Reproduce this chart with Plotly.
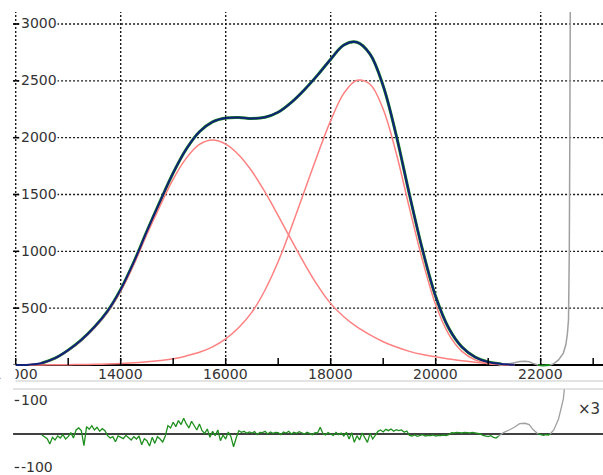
import plotly.graph_objects as go

# ---------------- data ----------------
X_MODEL = [12000, 12250, 12500, 12750, 13000, 13250, 13500, 13750,
           14000, 14250, 14500, 14750, 15000, 15250, 15500, 15750,
           16000, 16250, 16500, 16750, 17000, 17250, 17500, 17750,
           18000, 18250, 18500, 18750, 19000, 19250, 19500, 19750,
           20000, 20250, 20500, 20750, 21000, 21250, 21500]
PEAK1 = [0, 3, 17, 58, 128, 217, 328, 465,
         650, 885, 1150, 1400, 1635, 1820, 1940, 1979,
         1943, 1848, 1704, 1520, 1314, 1100, 892, 700,
         540, 425, 335, 265, 205, 158, 120, 92,
         72, 53, 38, 25, 14, 6, 2]
PEAK2 = [0, 0, 1, 2, 3, 4, 6, 9,
         14, 20, 28, 40, 55, 80, 112, 160,
         230, 330, 465, 660, 910, 1210, 1530, 1850,
         2150, 2390, 2505, 2470, 2250, 1860, 1380, 920,
         530, 270, 120, 45, 12, 3, 0]
MODEL_SUM = [a + b for a, b in zip(PEAK1, PEAK2)]

# residuals (data - model), one value every 50 units from 12500 to 21200
X_RES = list(range(12500, 21250, 50))
RESID = [-3, -8, -14, -30, -10, -18, -6, -12, -2, -15,
         -8, 4, -12, 12, 18, 10, -35, 22, 14, 25,
         12, 20, 8, 16, 10, -5, -12, -8, -23, -6,
         -10, -14, -4, -12, -18, -8, -15, -6, -32, -14,
         -20, -36, -10, -28, -8, -15, -24, -6, 25, 18,
         35, 22, 40, 28, 47, 30, 18, 38, 25, 12,
         30, 10, 2, 15, -10, 8, -5, 12, -20, -3,
         -15, 6, -8, -38, -12, 10, 5, 8, 2, 6,
         3, 7, -2, 5, 4, 8, 0, 6, 2, 5,
         4, -2, 6, 3, 8, 0, 5, 2, 7, 3,
         0, 5, 2, -2, 4, 3, 20, 2, -3, 4,
         0, -4, 5, -2, 3, -6, 5, -15, 4, -25,
         -5, -18, 3, -10, -25, 2, -15, -4, 8, 12,
         6, 14, 10, 15, 8, 13, 10, 12, 5, 9,
         -4, -6, -3, -7, -5, -2, -6, -4, -5, -3,
         -6, -4, -5, -3, -5, -2, 4, 3, 5, 4,
         3, 5, 4, 3, 5, 4, 3, 0, -4, -6,
         -8, -5, -10, -12, -6]

# tail of the data beyond the fitted region (model ~ 0 there)
TAIL1_X = [21200, 21300, 21400, 21500, 21600, 21700, 21780, 21850, 21950]
TAIL1_Y = [-6, 5, 12, 20, 31, 32, 28, 14, 0]
TAIL2_X = [21950, 22000, 22050, 22100, 22150, 22180]
TAIL2_Y = [0, -3, -4, -2, -3, 0]
TAIL3_X = [22180, 22250, 22340, 22432, 22480, 22510, 22530, 22545, 22555, 22565]
TAIL3_Y = [0, 12, 45, 105, 180, 280, 400, 1000, 2000, 3300]

Y_TICKS = [500, 1000, 1500, 2000, 2500, 3000]
X_GRID = [12000, 14000, 16000, 18000, 20000, 22000]
X_TICKS = [12000, 13000, 14000, 15000, 16000, 17000, 18000, 19000,
           20000, 21000, 22000, 23000]
RES_TICKS = [100, -100]
RES_SCALE_LABEL = "×3"

# ---------------- styling ----------------
GREEN = "#1f8f1f"
NAVY = "#102278"
RED = "#ff8080"
GRAY = "#a0a0a0"
FONT = "DejaVu Sans"
TXT = "#333333"
XR = [11701, 23187]
YR = [-140.8, 3105.5]
Y2R = [-122.4, 134.3]
XL = 11950

fig = go.Figure()
# main plot
fig.add_trace(go.Scatter(x=TAIL1_X, y=TAIL1_Y, mode="lines",
                         line=dict(color=GRAY, width=1.5), xaxis="x", yaxis="y"))
fig.add_trace(go.Scatter(x=TAIL3_X, y=TAIL3_Y, mode="lines",
                         line=dict(color=GRAY, width=1.5), xaxis="x", yaxis="y"))
fig.add_trace(go.Scatter(x=TAIL2_X, y=TAIL2_Y, mode="lines",
                         line=dict(color=GREEN, width=2), xaxis="x", yaxis="y"))
fig.add_trace(go.Scatter(x=X_MODEL[2:38], y=MODEL_SUM[2:38], mode="lines",
                         line=dict(color=GREEN, width=3.0, shape="spline"),
                         xaxis="x", yaxis="y"))
for comp in (PEAK1, PEAK2):
    fig.add_trace(go.Scatter(x=X_MODEL, y=comp, mode="lines",
                             line=dict(color=RED, width=1.5, shape="spline"),
                             xaxis="x", yaxis="y"))
fig.add_trace(go.Scatter(x=X_MODEL, y=MODEL_SUM, mode="lines",
                         line=dict(color=NAVY, width=2, shape="spline"),
                         xaxis="x", yaxis="y"))
# residual plot
fig.add_trace(go.Scatter(x=TAIL1_X, y=TAIL1_Y, mode="lines",
                         line=dict(color=GRAY, width=1.3), xaxis="x2", yaxis="y2"))
fig.add_trace(go.Scatter(x=TAIL3_X, y=TAIL3_Y, mode="lines",
                         line=dict(color=GRAY, width=1.3), xaxis="x2", yaxis="y2"))
fig.add_trace(go.Scatter(x=TAIL2_X, y=TAIL2_Y, mode="lines",
                         line=dict(color=GREEN, width=1.3), xaxis="x2", yaxis="y2"))
fig.add_trace(go.Scatter(x=X_RES, y=RESID, mode="lines",
                         line=dict(color=GREEN, width=1.3), xaxis="x2", yaxis="y2"))

shapes = []
dot = dict(color="#1a1a1a", width=1.4, dash="2px,2px")
for v in Y_TICKS:
    shapes.append(dict(type="line", xref="x", yref="y", x0=XL, x1=XR[1], y0=v, y1=v,
                       line=dot, layer="below"))
for v in X_GRID:
    shapes.append(dict(type="line", xref="x", yref="y", x0=v, x1=v, y0=0, y1=YR[1],
                       line=dot, layer="below"))
shapes.append(dict(type="line", xref="x", yref="y", x0=XL, x1=XR[1], y0=0, y1=0,
                   line=dict(color="black", width=2), layer="below"))
for v in X_TICKS:
    shapes.append(dict(type="line", xref="x", yref="y", ysizemode="pixel", yanchor=0,
                       x0=v, x1=v, y0=0, y1=7, line=dict(color="black", width=1.5)))
for v in Y_TICKS:
    shapes.append(dict(type="line", xref="x", yref="y", xsizemode="pixel", xanchor=12000,
                       x0=-2.5, x1=3.5, y0=v, y1=v, line=dict(color="black", width=1.5)))
# residual panel
shapes.append(dict(type="line", xref="x2", yref="y2", x0=XL, x1=XR[1], y0=0, y1=0,
                   line=dict(color="black", width=1.5), layer="below"))
for v in RES_TICKS:
    shapes.append(dict(type="line", xref="x2", yref="y2", xsizemode="pixel", xanchor=12000,
                       x0=-1, x1=3.5, y0=v, y1=v, line=dict(color="#333", width=1.3)))
for yp in (0.1979, 0.18105):
    shapes.append(dict(type="line", xref="x", yref="paper", x0=XL, x1=XR[1], y0=yp, y1=yp,
                       line=dict(color="#c8c8c8", width=1)))

ann = []
tf = dict(family=FONT, size=14, color=TXT)
for v in Y_TICKS:
    ann.append(dict(x=12000, y=v, xref="x", yref="y", text=str(v), showarrow=False,
                    xanchor="left", yanchor="middle", xshift=4, yshift=0.5,
                    bgcolor="white", borderpad=0, font=tf))
for v in X_GRID:
    ann.append(dict(x=v, y=0, xref="x", yref="y", text=str(v), showarrow=False,
                    xanchor="center", yanchor="middle", yshift=-9.5, font=tf))
# the left end of the first x label is hidden by the frame edge
ann.append(dict(x=0, y=0, xref="paper", yref="y", text=" ", showarrow=False,
                xanchor="left", yanchor="middle", yshift=-9.5, width=14, height=18,
                bgcolor="white", borderpad=0, font=tf))
for v in RES_TICKS:
    ann.append(dict(x=12000, y=v, xref="x2", yref="y2", text=str(v), showarrow=False,
                    xanchor="left", yanchor="middle", xshift=3, yshift=0.5, font=tf))
ann.append(dict(x=1, y=75, xref="paper", yref="y2", text=RES_SCALE_LABEL, showarrow=False,
                xanchor="right", yanchor="middle", xshift=-1,
                font=dict(family=FONT, size=15, color=TXT)))

ax_off = dict(visible=False, showgrid=False, zeroline=False)
fig.update_layout(
    width=603, height=475,
    margin=dict(l=0, r=0, t=0, b=0),
    paper_bgcolor="white", plot_bgcolor="white",
    showlegend=False,
    xaxis=dict(domain=[0, 1], range=XR, anchor="y", **ax_off),
    yaxis=dict(domain=[0.19789, 0.97474], range=YR, anchor="x", **ax_off),
    xaxis2=dict(domain=[0, 1], range=XR, anchor="y2", **ax_off),
    yaxis2=dict(domain=[0, 0.18105], range=Y2R, anchor="x2", **ax_off),
    shapes=shapes,
    annotations=ann,
)
fig.write_html("out.html", config={"displayModeBar": False},
               post_script="document.body.style.margin='0px';")
